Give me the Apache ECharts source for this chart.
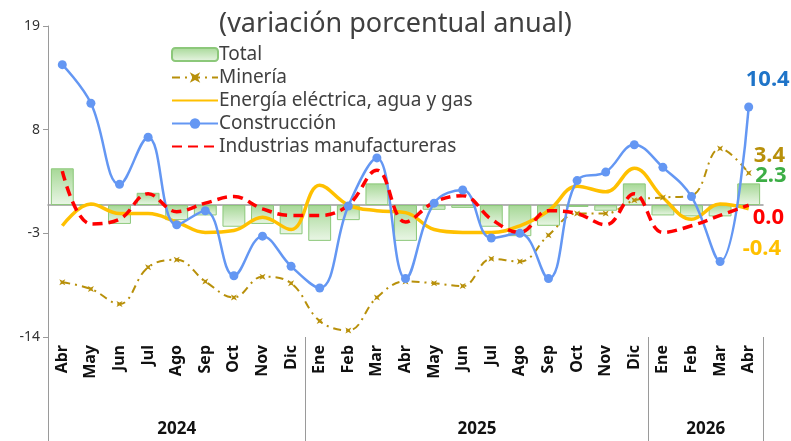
<!DOCTYPE html>
<html>
<head>
<meta charset="utf-8">
<script src="https://cdn.jsdelivr.net/npm/echarts@6/dist/echarts.min.js"></script>
<style>
  html, body { margin: 0; padding: 0; background: #fff; }
  #chart { width: 791px; height: 441px; }
</style>
</head>
<body>
<div id="chart"></div>
<script>
const months = ['Abr', 'May', 'Jun', 'Jul', 'Ago', 'Sep', 'Oct', 'Nov', 'Dic',
  'Ene', 'Feb', 'Mar', 'Abr', 'May', 'Jun', 'Jul', 'Ago', 'Sep', 'Oct', 'Nov', 'Dic',
  'Ene', 'Feb', 'Mar', 'Abr'];
const years = ['2024', '2025', '2026'];
const yearCounts = [9, 12, 4];
const yTicks = [-14, -3, 8, 19];

const total = [3.9, 0, -2.0, 1.3, -1.6, -1.1, -2.3, -2.0, -3.1,
  -3.8, -1.6, 2.3, -3.8, -0.5, -0.3, -2.3, -3.3, -2.2, -0.2, -0.6, 2.3,
  -1.1, -1.2, -1.2, 2.3];
const mineria = [-8.2, -8.9, -10.5, -6.6, -5.8, -8.1, -9.8, -7.6, -8.3,
  -12.3, -13.3, -9.8, -8.1, -8.3, -8.6, -5.7, -6.0, -3.2, -0.9, -0.9, 0.5,
  0.8, 1.0, 6.0, 3.4];
const energia = [-2.2, 0.1, -0.9, -0.9, -1.8, -2.9, -2.7, -1.3, -2.6,
  2.1, 0.0, -0.6, -0.8, -2.6, -2.9, -2.9, -2.2, -0.6, 2.0, 1.4, 3.9,
  0.8, -1.5, 0.1, -0.4];
const construccion = [14.9, 10.8, 2.2, 7.2, -2.1, -0.6, -7.5, -3.3, -6.5,
  -8.8, -0.1, 5.0, -7.8, 0.2, 1.6, -3.5, -3.0, -7.8, 2.6, 3.5, 6.4,
  4.0, 0.9, -6.0, 10.4];
const industrias = [3.6, -2.0, -1.5, 1.2, -0.7, 0.2, 0.9, -0.4, -1.1,
  -1.1, 0.0, 3.7, -1.8, 0.3, 1.0, -1.5, -2.9, -0.6, -0.9, -2.1, 1.2,
  -2.9, -2.2, -1.1, 0.0];

// year group boundaries and centres on a 0..25 scale
const bounds = [0];
yearCounts.forEach(c => bounds.push(bounds[bounds.length - 1] + c));
const centers = years.map((y, i) => (bounds[i] + bounds[i + 1]) / 2);

const font = 'Noto Sans';
const chart = echarts.init(document.getElementById('chart'));

const endText = { fontFamily: font, fontWeight: 'bold', fontSize: 22 };

// label only the last point of a series
function lastLabel(values, label) {
  return values.map((v, i) => i === values.length - 1
    ? { value: v, label: Object.assign({ show: true, formatter: v.toFixed(1) }, endText, label) }
    : v);
}

const barGradient = new echarts.graphic.LinearGradient(0, 0, 0, 1, [
  { offset: 0, color: '#A6D896' },
  { offset: 1, color: '#EAF6E6' }
]);

chart.setOption({
  animation: false,
  title: {
    text: '(variación porcentual anual)',
    left: 'center',
    top: 6,
    textStyle: { fontFamily: font, fontWeight: 'normal', fontSize: 27, color: '#404040' }
  },
  legend: {
    orient: 'vertical',
    left: 166,
    top: 40,
    itemWidth: 46,
    itemHeight: 13,
    itemGap: 4,
    textStyle: { fontFamily: font, fontSize: 19, color: '#404040', padding: [0, 0, 0, -4] },
    data: [
      'Total',
      'Minería',
      { name: 'Energía eléctrica, agua y gas', itemStyle: { opacity: 0 } },
      'Construcción',
      { name: 'Industrias manufactureras', itemStyle: { opacity: 0 } }
    ]
  },
  grid: { left: 48, right: 28, top: 26, bottom: 104 },
  xAxis: [
    {
      type: 'category',
      data: months,
      position: 'bottom',
      axisLine: { show: false, onZero: false },
      axisTick: { show: false },
      axisLabel: { interval: 0, rotate: 90, margin: 8, fontFamily: font, fontWeight: 'bold', fontSize: 16, color: '#111' }
    },
    {
      type: 'category',
      data: months,
      axisLine: { show: true, onZero: true, lineStyle: { color: '#9a9a9a', width: 1.5 } },
      axisTick: { show: false },
      axisLabel: { show: false }
    },
    {
      type: 'value',
      min: 0,
      max: bounds[bounds.length - 1],
      position: 'bottom',
      axisLine: { show: false, onZero: false },
      splitLine: { show: false },
      axisTick: { show: true, customValues: bounds, length: 104, lineStyle: { color: '#9a9a9a' } },
      axisLabel: {
        customValues: centers,
        margin: 84,
        fontFamily: font,
        fontWeight: 'bold',
        fontSize: 17,
        color: '#111',
        formatter: v => years[centers.indexOf(v)]
      }
    }
  ],
  yAxis: {
    type: 'value',
    min: -14,
    max: 19,
    splitLine: { show: false },
    axisLine: { show: true, lineStyle: { color: '#9a9a9a' } },
    axisTick: { show: true, customValues: yTicks, length: 5, lineStyle: { color: '#9a9a9a' } },
    axisLabel: { customValues: yTicks, fontFamily: font, fontSize: 14, color: '#333', margin: 8 }
  },
  series: [
    {
      name: 'Total',
      type: 'bar',
      barWidth: '80%',
      data: lastLabel(total, { position: [18, -19], color: '#3DAE46' }),
      itemStyle: { color: barGradient, borderColor: '#8CC87A', borderWidth: 1 }
    },
    {
      name: 'Minería',
      type: 'line',
      smooth: 0.4,
      symbol: 'path://M0,0L2,1L4,0L3,2L4,4L2,3L0,4L1,2Z',
      symbolSize: 6,
      data: lastLabel(mineria, { position: 'right', offset: [-3, -17], color: '#B8900A' }),
      itemStyle: { color: '#B8900A' },
      lineStyle: { color: '#B8900A', width: 2, type: [8, 5, 2, 5] }
    },
    {
      name: 'Energía eléctrica, agua y gas',
      type: 'line',
      smooth: 0.4,
      symbol: 'none',
      data: energia,
      endLabel: Object.assign({ show: true, formatter: p => p.value.toFixed(1), offset: [-14, 40], color: '#FFC000' }, endText),
      itemStyle: { color: '#FFC000' },
      lineStyle: { color: '#FFC000', width: 3.5 }
    },
    {
      name: 'Construcción',
      type: 'line',
      smooth: 0.4,
      symbol: 'circle',
      symbolSize: 9,
      data: lastLabel(construccion, { position: 'top', offset: [19, -7], color: '#1F74C8' }),
      itemStyle: { color: '#6497F3' },
      lineStyle: { color: '#6497F3', width: 2.5 }
    },
    {
      name: 'Industrias manufactureras',
      type: 'line',
      smooth: 0.4,
      symbol: 'none',
      data: industrias,
      endLabel: Object.assign({ show: true, formatter: p => p.value.toFixed(1), offset: [-4, 13], color: '#FF0000' }, endText),
      itemStyle: { color: '#FF0000' },
      lineStyle: { color: '#FF0000', width: 3.5, type: [10, 6] }
    }
  ]
});
</script>
</body>
</html>
